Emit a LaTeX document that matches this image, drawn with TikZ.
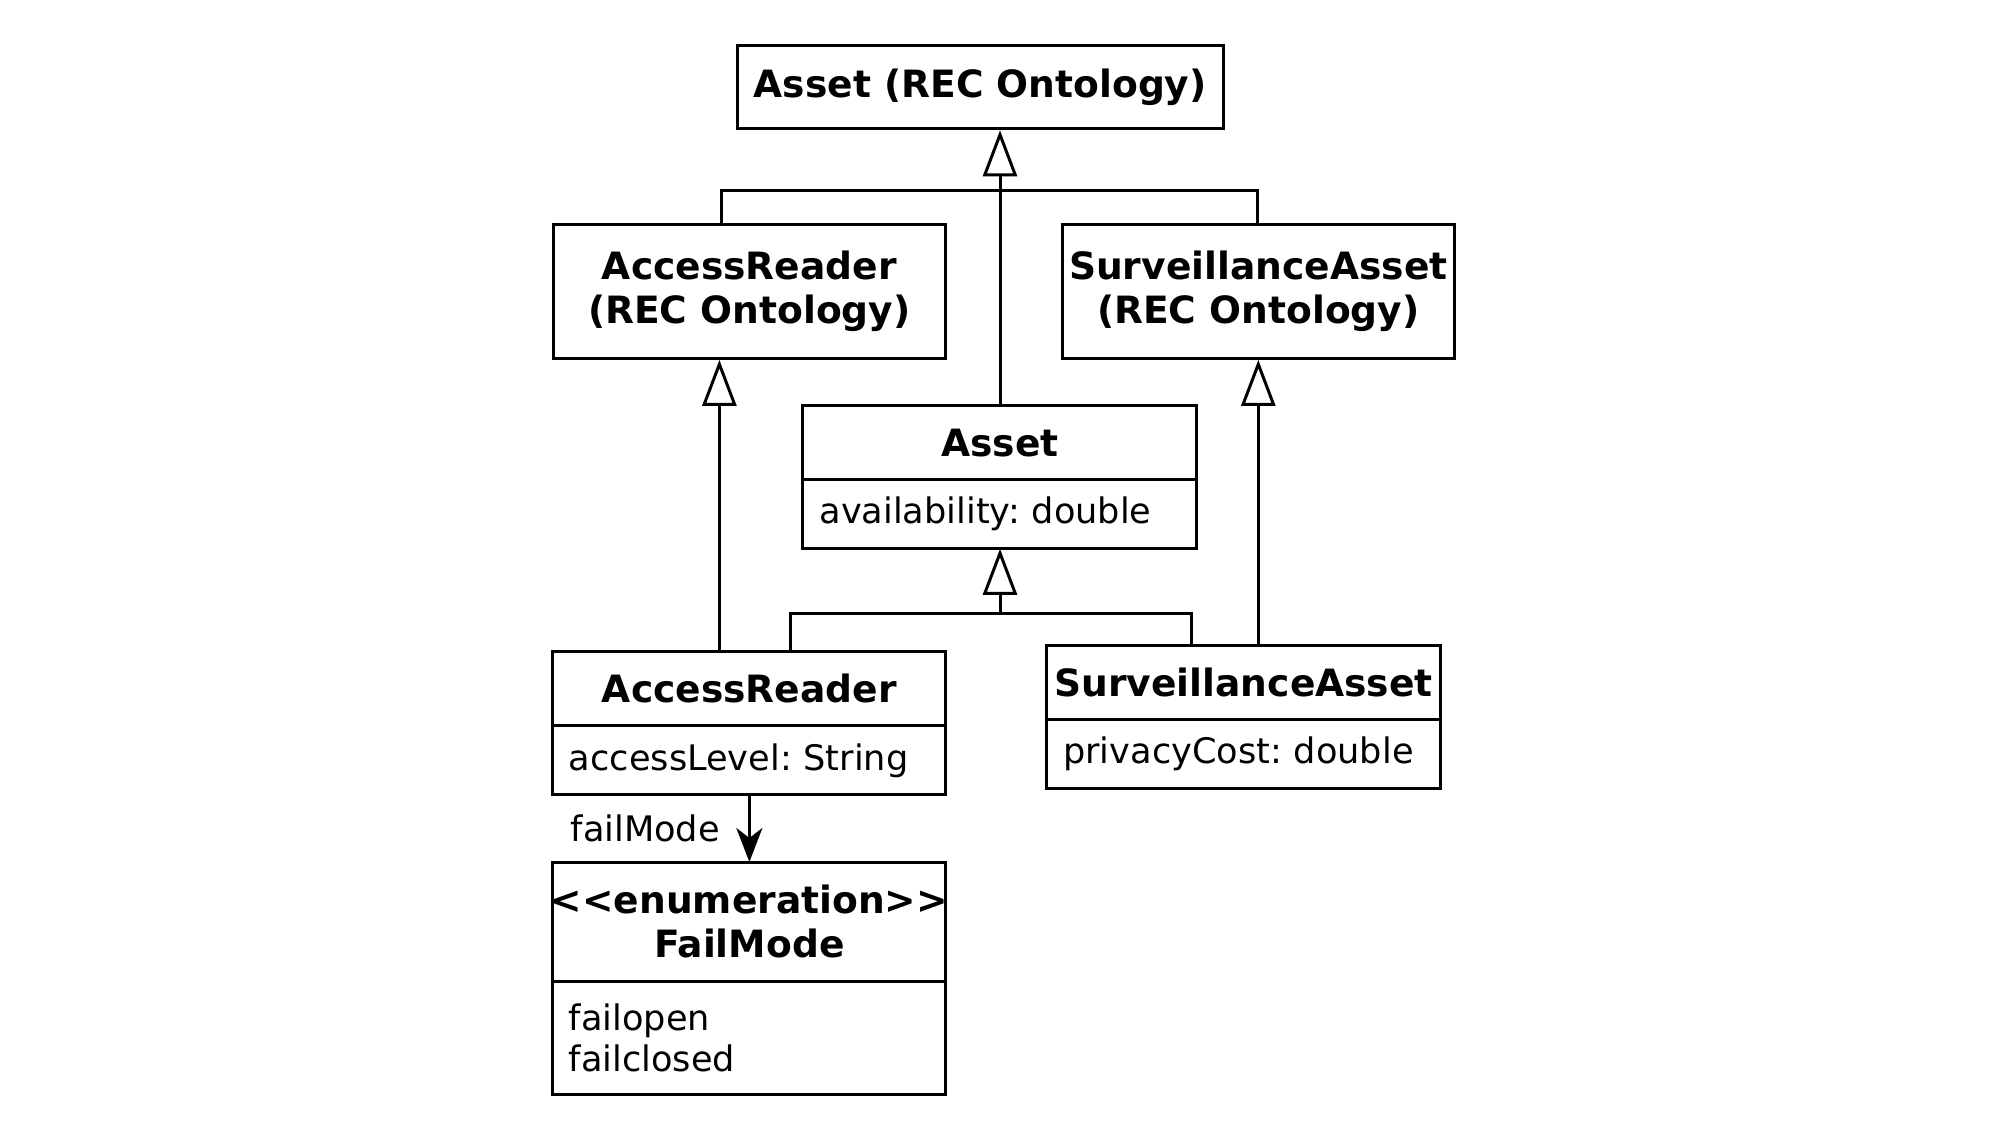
\documentclass[tikz,border=0pt]{standalone}
\usepackage{fontspec}
\setmainfont{DejaVu Sans}
\usepackage{tikz}
\usetikzlibrary{positioning,arrows.meta}
\frenchspacing

\tikzset{
  cls/.style={draw, line width=0.85pt, inner sep=0pt, minimum width=3.916cm, align=center, font=\bfseries\fontsize{10.7}{12.5}\selectfont},
  head/.style={cls, draw=none, minimum height=0.714cm},
  attr/.style={inner xsep=0.153cm, inner ysep=0pt, text width=3.61cm, align=left, minimum height=0.676cm, font=\fontsize{10}{11.7}\selectfont},
  line/.style={line width=0.85pt},
  gen/.style={line width=0.85pt, -{Triangle[open, length=0.46cm, width=0.34cm]}},
  nav/.style={line width=0.85pt, -{Stealth[length=0.34cm, width=0.26cm, inset=0.1cm]}}
}

\begin{document}
\begin{tikzpicture}[x=0.012755cm, y=-0.012755cm]
\begin{scope}

\useasboundingbox (0,0) rectangle (1568,890.6);

\node[cls, minimum width=4.86cm, minimum height=0.829cm] (top) at (768.5,68.5) {Asset (REC Ontology)};
\node[cls, minimum height=1.339cm] (arrec) at (587.5,228.5) {AccessReader\\(REC Ontology)};
\node[cls, minimum height=1.339cm] (sarec) at (986.5,228.5) {SurveillanceAsset\\(REC Ontology)};

\node[head] (asset) at (784,347) {Asset};
\node[attr, below=0pt of asset] (assetA) {availability: double};

\node[head] (ar) at (587.5,540) {AccessReader};
\node[attr, below=0pt of ar] (arA) {accessLevel: String};

\node[head] (sa) at (975,535) {SurveillanceAsset};
\node[attr, below=0pt of sa] (saA) {privacyCost: double};

\node[head, minimum height=1.161cm] (fm) at (587.5,722.5) {\makebox[3.9cm]{<{}<enumeration>{}>}\\FailMode};
\node[attr, below=0pt of fm, minimum height=1.122cm] (fmA) {failopen\\failclosed};

% class frames
\foreach \h/\a in {asset/assetA, ar/arA, sa/saA, fm/fmA} {
  \draw[line] (\h.north west) rectangle (\a.south east);
  \draw[line] (\a.north west) -- (\a.north east);
}

\coordinate (barL) at (566,149);
\coordinate (barR) at (986,149);
\coordinate (arup) at (564,400);
\coordinate (barM) at (784,481);
\coordinate (barL2) at (620,481);
\coordinate (barR2) at (934,481);

\draw[gen] (asset.north) -- (asset.north |- top.south);
\draw[line] (barL |- arrec.north) -- (barL) -- (barR) -- (barR |- sarec.north);

\draw[gen] (arup |- ar.north) -- (arup |- arrec.south);
\draw[gen] (sarec.south |- sa.north) -- (sarec.south);

\draw[gen] (barM) -- (assetA.south);
\draw[line] (barL2 |- ar.north) -- (barL2) -- (barR2) -- (barR2 |- sa.north);

\draw[nav] (arA.south) -- (fm.north) node[midway, left=0.28cm, inner sep=0pt, font=\fontsize{10}{11.7}\selectfont] {failMode};

\end{scope}
\end{tikzpicture}
\end{document}
